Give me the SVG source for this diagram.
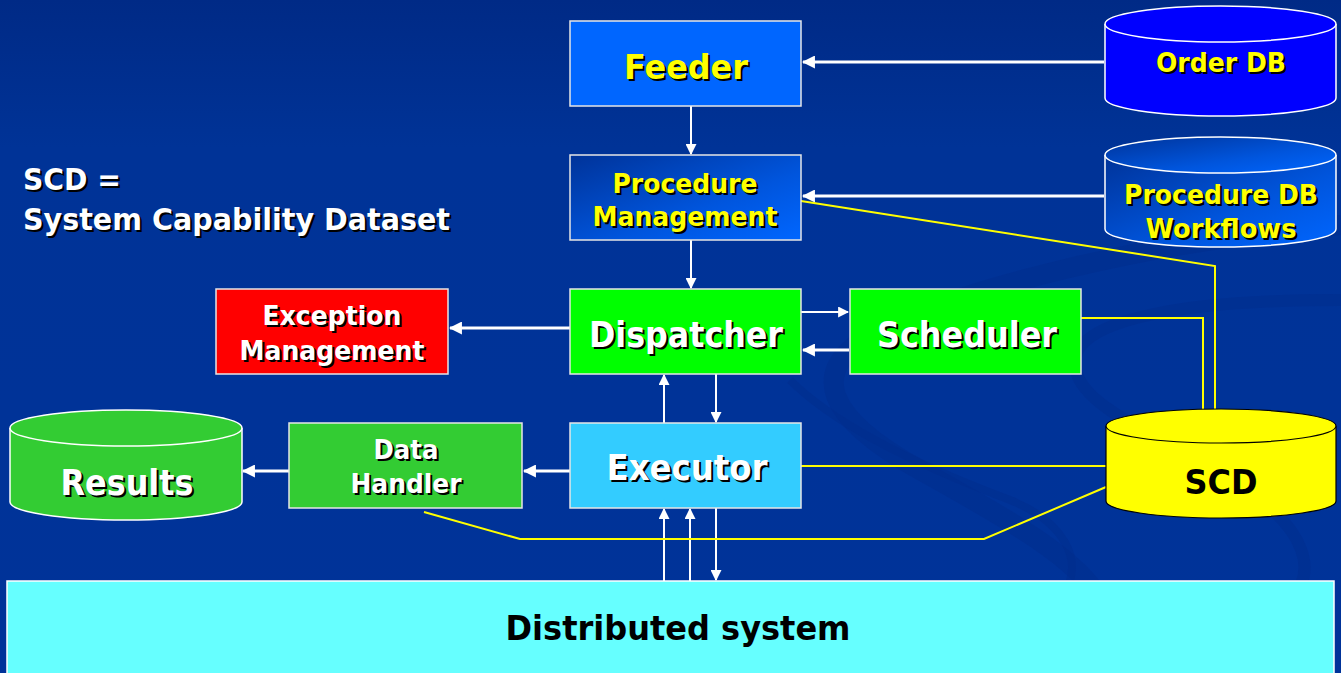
<svg xmlns="http://www.w3.org/2000/svg" width="1341" height="673" viewBox="0 0 1341 673">
  <defs>
    <linearGradient id="bg" x1="0" y1="0" x2="0" y2="1">
      <stop offset="0" stop-color="#002a86"/>
      <stop offset="0.22" stop-color="#003397"/>
      <stop offset="1" stop-color="#003399"/>
    </linearGradient>
    <linearGradient id="blueShade" x1="0" y1="0" x2="1" y2="1">
      <stop offset="0" stop-color="#003399"/>
      <stop offset="0.6" stop-color="#0055dd"/>
      <stop offset="1" stop-color="#0066ff"/>
    </linearGradient>
    <marker id="arrow" viewBox="0 0 10 10" refX="9" refY="5" markerWidth="11" markerHeight="11" markerUnits="userSpaceOnUse" orient="auto">
      <path d="M0,0 L10,5 L0,10 z" fill="#ffffff"/>
    </marker>
    <marker id="arrowBig" viewBox="0 0 12 12" refX="11" refY="6" markerWidth="13" markerHeight="13" markerUnits="userSpaceOnUse" orient="auto">
      <path d="M0,0 L12,6 L0,12 z" fill="#ffffff"/>
    </marker>
  </defs>
  <style>
    .box { stroke: #e6e6e6; stroke-width: 1.5; }
    .cyl { stroke: #ffffff; stroke-width: 1.5; }
    .t { font-family: "DejaVu Sans", "Liberation Sans", sans-serif; font-weight: bold; text-anchor: middle; }
    .yel { fill: #ffff00; }
    .wht { fill: #ffffff; }
    .blk { fill: #000000; }
    .shadow { fill: #000000; }
    .flow { stroke: #ffffff; stroke-width: 2; fill: none; marker-end: url(#arrow); }
    .flowBig { stroke: #ffffff; stroke-width: 3; fill: none; marker-end: url(#arrowBig); }
    .link { stroke: #ffff00; stroke-width: 2; fill: none; }
    .swirl { fill: none; stroke: #002c8c; stroke-opacity: 0.45; }
  </style>

  <!-- background -->
  <rect x="0" y="0" width="1341" height="673" fill="url(#bg)"/>
  <g id="backdrop-swirl">
    <path class="swirl" stroke-width="20" d="M1341,225 C1150,240 960,290 880,330 C800,370 830,420 920,470 C1010,520 1080,560 1100,600"/>
    <path class="swirl" stroke-width="12" d="M1341,300 C1180,300 1080,320 1075,360 C1070,410 1180,440 1260,500 C1300,530 1320,570 1290,600"/>
    <path class="swirl" stroke-width="8" d="M790,380 C840,430 930,470 1010,500 C1060,520 1090,560 1060,600"/>
  </g>

  <!-- connectors -->
  <g id="connectors">
    <line class="flowBig" x1="1104" y1="62" x2="803" y2="62"/>
    <line class="flow" x1="691" y1="106" x2="691" y2="154"/>
    <line class="flowBig" x1="1104" y1="196" x2="803" y2="196"/>
    <line class="flow" x1="691" y1="240" x2="691" y2="288"/>
    <line class="flowBig" x1="570" y1="328" x2="450" y2="328"/>
    <line class="flow" x1="801" y1="312" x2="848" y2="312"/>
    <line class="flowBig" x1="849" y1="350" x2="803" y2="350"/>
    <line class="flow" x1="664" y1="423" x2="664" y2="375"/>
    <line class="flow" x1="716" y1="374" x2="716" y2="422"/>
    <line class="flowBig" x1="570" y1="471" x2="524" y2="471"/>
    <line class="flowBig" x1="289" y1="471" x2="243" y2="471"/>
    <line class="flow" x1="664" y1="581" x2="664" y2="509"/>
    <line class="flow" x1="690" y1="581" x2="690" y2="509"/>
    <line class="flow" x1="716" y1="508" x2="716" y2="580"/>
    <!-- links to the capability dataset -->
    <polyline class="link" points="801,201 1215,266 1215,410"/>
    <polyline class="link" points="1081,318 1203,318 1203,410"/>
    <line class="link" x1="801" y1="466" x2="1106" y2="466"/>
    <polyline class="link" points="424,512 520,539 984,539 1106,487"/>
  </g>

  <!-- Feeder -->
  <g id="feeder">
    <rect class="box" x="570" y="21" width="231" height="85" fill="#0066ff"/>
    <text class="t shadow" x="688" y="81" font-size="34" textLength="124" lengthAdjust="spacingAndGlyphs">Feeder</text>
    <text class="t yel" x="686" y="79" font-size="34" textLength="124" lengthAdjust="spacingAndGlyphs">Feeder</text>
  </g>

  <!-- Order DB -->
  <g id="order-db">
    <path class="cyl" fill="#0000ff" d="M1105,24 L1105,98 A115.5,18 0 0 0 1336,98 L1336,24"/>
    <ellipse class="cyl" cx="1220.5" cy="24" rx="115.5" ry="18" fill="#0000ff"/>
    <text class="t shadow" x="1223" y="74" font-size="26" textLength="130" lengthAdjust="spacingAndGlyphs">Order DB</text>
    <text class="t yel" x="1221" y="72" font-size="26" textLength="130" lengthAdjust="spacingAndGlyphs">Order DB</text>
  </g>

  <!-- Procedure Management -->
  <g id="procedure-management">
    <rect class="box" x="570" y="155" width="231" height="85" fill="url(#blueShade)"/>
    <text class="t shadow" x="687" y="195" font-size="27" textLength="145" lengthAdjust="spacingAndGlyphs">Procedure</text>
    <text class="t yel" x="685" y="193" font-size="27" textLength="145" lengthAdjust="spacingAndGlyphs">Procedure</text>
    <text class="t shadow" x="687" y="228" font-size="27" textLength="185" lengthAdjust="spacingAndGlyphs">Management</text>
    <text class="t yel" x="685" y="226" font-size="27" textLength="185" lengthAdjust="spacingAndGlyphs">Management</text>
  </g>

  <!-- Procedure DB / Workflows -->
  <g id="procedure-db">
    <path class="cyl" fill="url(#blueShade)" d="M1105,155 L1105,229 A115.5,18 0 0 0 1336,229 L1336,155"/>
    <ellipse class="cyl" cx="1220.5" cy="155" rx="115.5" ry="18" fill="url(#blueShade)"/>
    <text class="t shadow" x="1223" y="206" font-size="27" textLength="194" lengthAdjust="spacingAndGlyphs">Procedure DB</text>
    <text class="t yel" x="1221" y="204" font-size="27" textLength="194" lengthAdjust="spacingAndGlyphs">Procedure DB</text>
    <text class="t shadow" x="1223" y="240" font-size="27" textLength="151" lengthAdjust="spacingAndGlyphs">Workflows</text>
    <text class="t yel" x="1221" y="238" font-size="27" textLength="151" lengthAdjust="spacingAndGlyphs">Workflows</text>
  </g>

  <!-- legend -->
  <g id="legend">
    <text class="shadow" x="25" y="192" font-family="DejaVu Sans, Liberation Sans, sans-serif" font-weight="bold" font-size="30" textLength="98" lengthAdjust="spacingAndGlyphs">SCD =</text>
    <text class="wht" x="23" y="190" font-family="DejaVu Sans, Liberation Sans, sans-serif" font-weight="bold" font-size="30" textLength="98" lengthAdjust="spacingAndGlyphs">SCD =</text>
    <text class="shadow" x="25" y="232" font-family="DejaVu Sans, Liberation Sans, sans-serif" font-weight="bold" font-size="30" textLength="427" lengthAdjust="spacingAndGlyphs">System Capability Dataset</text>
    <text class="wht" x="23" y="230" font-family="DejaVu Sans, Liberation Sans, sans-serif" font-weight="bold" font-size="30" textLength="427" lengthAdjust="spacingAndGlyphs">System Capability Dataset</text>
  </g>

  <!-- Exception Management -->
  <g id="exception-management">
    <rect class="box" x="216" y="289" width="232" height="85" fill="#ff0000"/>
    <text class="t shadow" x="334" y="327" font-size="27" textLength="139" lengthAdjust="spacingAndGlyphs">Exception</text>
    <text class="t wht" x="332" y="325" font-size="27" textLength="139" lengthAdjust="spacingAndGlyphs">Exception</text>
    <text class="t shadow" x="334" y="362" font-size="27" textLength="185" lengthAdjust="spacingAndGlyphs">Management</text>
    <text class="t wht" x="332" y="360" font-size="27" textLength="185" lengthAdjust="spacingAndGlyphs">Management</text>
  </g>

  <!-- Dispatcher -->
  <g id="dispatcher">
    <rect class="box" x="570" y="289" width="231" height="85" fill="#00ff00"/>
    <text class="t shadow" x="688" y="349" font-size="36" textLength="194" lengthAdjust="spacingAndGlyphs">Dispatcher</text>
    <text class="t wht" x="686" y="347" font-size="36" textLength="194" lengthAdjust="spacingAndGlyphs">Dispatcher</text>
  </g>

  <!-- Scheduler -->
  <g id="scheduler">
    <rect class="box" x="850" y="289" width="231" height="85" fill="#00ff00"/>
    <text class="t shadow" x="969" y="349" font-size="36" textLength="180" lengthAdjust="spacingAndGlyphs">Scheduler</text>
    <text class="t wht" x="967" y="347" font-size="36" textLength="180" lengthAdjust="spacingAndGlyphs">Scheduler</text>
  </g>

  <!-- Results -->
  <g id="results">
    <path class="cyl" fill="#33cc33" d="M10,428 L10,502 A116,18 0 0 0 242,502 L242,428"/>
    <ellipse class="cyl" cx="126" cy="428" rx="116" ry="18" fill="#33cc33"/>
    <text class="t shadow" x="129" y="497" font-size="36" textLength="133" lengthAdjust="spacingAndGlyphs">Results</text>
    <text class="t wht" x="127" y="495" font-size="36" textLength="133" lengthAdjust="spacingAndGlyphs">Results</text>
  </g>

  <!-- Data Handler -->
  <g id="data-handler">
    <rect class="box" x="289" y="423" width="233" height="85" fill="#33cc33"/>
    <text class="t shadow" x="408" y="461" font-size="26" textLength="65" lengthAdjust="spacingAndGlyphs">Data</text>
    <text class="t wht" x="406" y="459" font-size="26" textLength="65" lengthAdjust="spacingAndGlyphs">Data</text>
    <text class="t shadow" x="408" y="495" font-size="26" textLength="111" lengthAdjust="spacingAndGlyphs">Handler</text>
    <text class="t wht" x="406" y="493" font-size="26" textLength="111" lengthAdjust="spacingAndGlyphs">Handler</text>
  </g>

  <!-- Executor -->
  <g id="executor">
    <rect class="box" x="570" y="423" width="231" height="85" fill="#33ccff"/>
    <text class="t shadow" x="689" y="482" font-size="36" textLength="161" lengthAdjust="spacingAndGlyphs">Executor</text>
    <text class="t wht" x="687" y="480" font-size="36" textLength="161" lengthAdjust="spacingAndGlyphs">Executor</text>
  </g>

  <!-- SCD -->
  <g id="scd">
    <path fill="#ffff00" stroke="#000000" stroke-width="1.2" d="M1106,426 L1106,501 A115,17 0 0 0 1336,501 L1336,426"/>
    <ellipse cx="1221" cy="426" rx="115" ry="17" fill="#ffff00" stroke="#000000" stroke-width="1.2"/>
    <text class="t blk" x="1221" y="494" font-size="33" textLength="73" lengthAdjust="spacingAndGlyphs">SCD</text>
  </g>

  <!-- Distributed system -->
  <g id="distributed-system">
    <rect x="7" y="581" width="1327" height="100" fill="#66ffff" stroke="#ffffff" stroke-width="1.5"/>
    <text class="t blk" x="678" y="640" font-size="34" textLength="345" lengthAdjust="spacingAndGlyphs">Distributed system</text>
  </g>
</svg>
